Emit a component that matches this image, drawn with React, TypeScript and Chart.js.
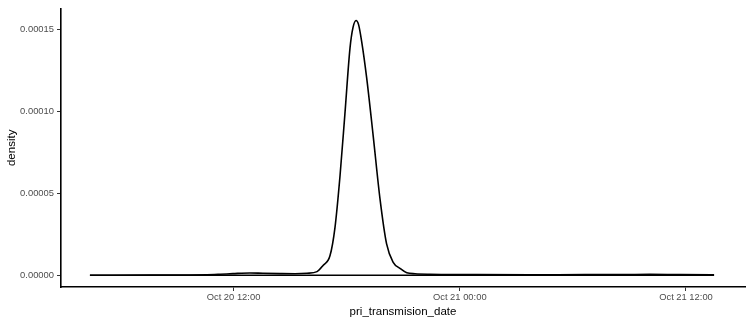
import React, { useEffect, useRef } from "react";
import { Chart, registerables } from "chart.js";

Chart.register(...registerables);

// x: hours since Oct 20 00:00, y: density
const hours = [
  4.385, 7.57, 10.59, 11.29, 11.97, 12.87, 13.56, 14.46, 15.26, 15.9, 16.43,
  16.75, 17.12, 17.38, 17.65, 17.91, 18.18, 18.34, 18.5, 18.63, 18.8, 19.06,
  19.41, 19.77, 20.12, 20.47, 20.83, 21.19, 21.63, 22.42, 24.38, 27.73, 30.65,
  32.5, 34.09, 35.69, 37.49,
];
const densityE5 = [
  0.0, 0.01, 0.03, 0.06, 0.1, 0.14, 0.12, 0.1, 0.09, 0.12, 0.22, 0.6, 1.2,
  2.89, 6.07, 9.86, 13.87, 15.12, 15.54, 15.3, 14.24, 12.07, 8.49, 4.66, 1.91,
  0.79, 0.42, 0.15, 0.09, 0.06, 0.04, 0.02, 0.04, 0.035, 0.05, 0.035, 0.03,
];
const xTicks = [12, 24, 36];
const yTicks = [0, 0.00005, 0.0001, 0.00015];
const xMin = 2.85;
const xMax = 39.13;
const yMin = -0.00000717;
const yMax = 0.0001626;

function fmtTime(h: number): string {
  const day = 20 + Math.floor(h / 24);
  const hh = Math.round(h % 24);
  return `Oct ${day} ${String(hh).padStart(2, "0")}:00`;
}

export default function App() {
  const ref = useRef<HTMLCanvasElement | null>(null);
  useEffect(() => {
    document.body.style.margin = "0";
    const curve = hours.map((h, i) => ({ x: h, y: densityE5[i] * 1e-5 }));
    const base = [
      { x: hours[0], y: 0 },
      { x: hours[hours.length - 1], y: 0 },
    ];
    const tickFont = { family: "Liberation Sans, Arial, sans-serif", size: 9.4 };
    const titleFont = { family: "Liberation Sans, Arial, sans-serif", size: 11.5 };
    const chart = new Chart(ref.current!, {
      type: "line",
      data: {
        datasets: [
          {
            data: curve,
            borderColor: "#000",
            borderWidth: 1.6,
            pointRadius: 0,
            cubicInterpolationMode: "monotone",
            fill: false,
          },
          {
            data: base,
            borderColor: "#000",
            borderWidth: 1.6,
            pointRadius: 0,
            fill: false,
          },
        ],
      },
      options: {
        animation: false,
        responsive: false,
        maintainAspectRatio: false,
        layout: { padding: { left: 0, top: 3, right: 5, bottom: 0 } },
        plugins: { legend: { display: false }, tooltip: { enabled: false } },
        scales: {
          x: {
            type: "linear",
            min: xMin,
            max: xMax,
            afterBuildTicks: (s: any) => {
              s.ticks = xTicks.map((v) => ({ value: v }));
            },
            afterFit: (s: any) => {
              s.height = 34;
            },
            grid: {
              drawOnChartArea: false,
              drawTicks: true,
              tickLength: 4,
              tickColor: "#333",
            },
            border: { display: true, color: "#000", width: 1.6 },
            ticks: {
              color: "#4D4D4D",
              font: tickFont,
              padding: 1,
              maxRotation: 0,
              callback: (v: any) => fmtTime(Number(v)),
            },
            title: {
              display: true,
              text: "pri_transmision_date",
              color: "#000",
              font: titleFont,
              padding: { top: 0, bottom: 2 },
            },
          },
          y: {
            type: "linear",
            min: yMin,
            max: yMax,
            afterBuildTicks: (s: any) => {
              s.ticks = yTicks.map((v) => ({ value: v }));
            },
            afterFit: (s: any) => {
              s.width = 61;
            },
            grid: {
              drawOnChartArea: false,
              drawTicks: true,
              tickLength: 4,
              tickColor: "#333",
            },
            border: { display: true, color: "#000", width: 1.6 },
            ticks: {
              color: "#4D4D4D",
              font: tickFont,
              padding: 3,
              callback: (v: any) => Number(v).toFixed(5),
            },
            title: {
              display: true,
              text: "density",
              color: "#000",
              font: titleFont,
              padding: { top: 5, bottom: 0 },
            },
          },
        },
      },
    });
    return () => chart.destroy();
  }, []);
  return (
    <div style={{ position: "absolute", left: 0, top: 0, width: 750, height: 321 }}>
      <canvas ref={ref} width={750} height={321} style={{ width: 750, height: 321 }} />
    </div>
  );
}
